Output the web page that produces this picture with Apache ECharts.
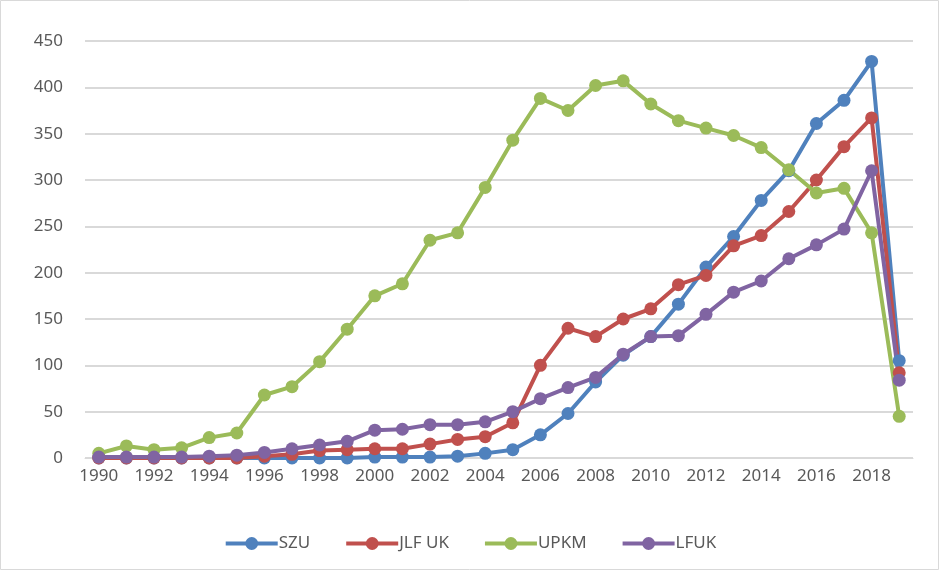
<!DOCTYPE html>
<html><head><meta charset="utf-8">
<script src="https://cdn.jsdelivr.net/npm/echarts@6/dist/echarts.min.js"></script>
<style>html,body{margin:0;padding:0;background:#fff}#c{width:940px;height:571px}</style>
</head><body><div id="c"></div>
<script>
const years = ['1990','1991','1992','1993','1994','1995','1996','1997','1998','1999','2000','2001','2002','2003','2004','2005','2006','2007','2008','2009','2010','2011','2012','2013','2014','2015','2016','2017','2018','2019'];
const szu  = [0,0,0,0,0,0,0,0,0,0,1,1,1,2,5,9,25,48,82,111,131,166,206,239,278,310,361,386,428,105];
const jlf  = [0,0,0,0,0,0,2,4,8,9,10,10,15,20,23,38,100,140,131,150,161,187,197,229,240,266,300,336,367,92];
const upkm = [5,13,9,11,22,27,68,77,104,139,175,188,235,243,292,343,388,375,402,407,382,364,356,348,335,311,286,291,243,45];
const lfuk = [1,1,1,1,2,3,6,10,14,18,30,31,36,36,39,50,64,76,87,112,131,132,155,179,191,215,230,247,310,84];
const yTicks = {min:0, max:450, interval:50};

const chart = echarts.init(document.getElementById('c'));
const font = 'Noto Sans';
function s(name, data, color){
  return {name, type:'line', data, symbol:'circle', symbolSize:13,
    lineStyle:{width:4, color}, itemStyle:{color}, z: 2};
}
chart.setOption({
  animation:false,
  textStyle:{fontFamily:font},
  graphic:[{type:'rect', shape:{x:0.5,y:0.5,width:938,height:569}, style:{fill:null, stroke:'#d9d9d9', lineWidth:1}, silent:true}],
  grid:{left:85, right:27, top:41, bottom:113},
  legend:{bottom:14, left:'center', itemWidth:52, itemHeight:16, itemGap:34,
    lineStyle:{width:4},
    textStyle:{fontSize:17, color:'#595959', fontFamily:font, padding:[0,0,0,-4]},
    data:['SZU','JLF UK','UPKM','LFUK']},
  xAxis:{type:'category', data:years, boundaryGap:true,
    axisLine:{lineStyle:{color:'#d9d9d9'}}, axisTick:{show:false},
    axisLabel:{interval:1, fontSize:17, color:'#595959', margin:10}},
  yAxis:{type:'value', min:yTicks.min, max:yTicks.max, interval:yTicks.interval,
    axisLine:{show:false}, axisTick:{show:false},
    splitLine:{lineStyle:{color:'#d9d9d9', width:2}},
    axisLabel:{fontSize:17, color:'#595959', margin:22}},
  series:[s('SZU',szu,'#4f81bd'), s('JLF UK',jlf,'#c0504d'), s('UPKM',upkm,'#9bbb59'), s('LFUK',lfuk,'#8064a2')]
});
</script></body></html>
